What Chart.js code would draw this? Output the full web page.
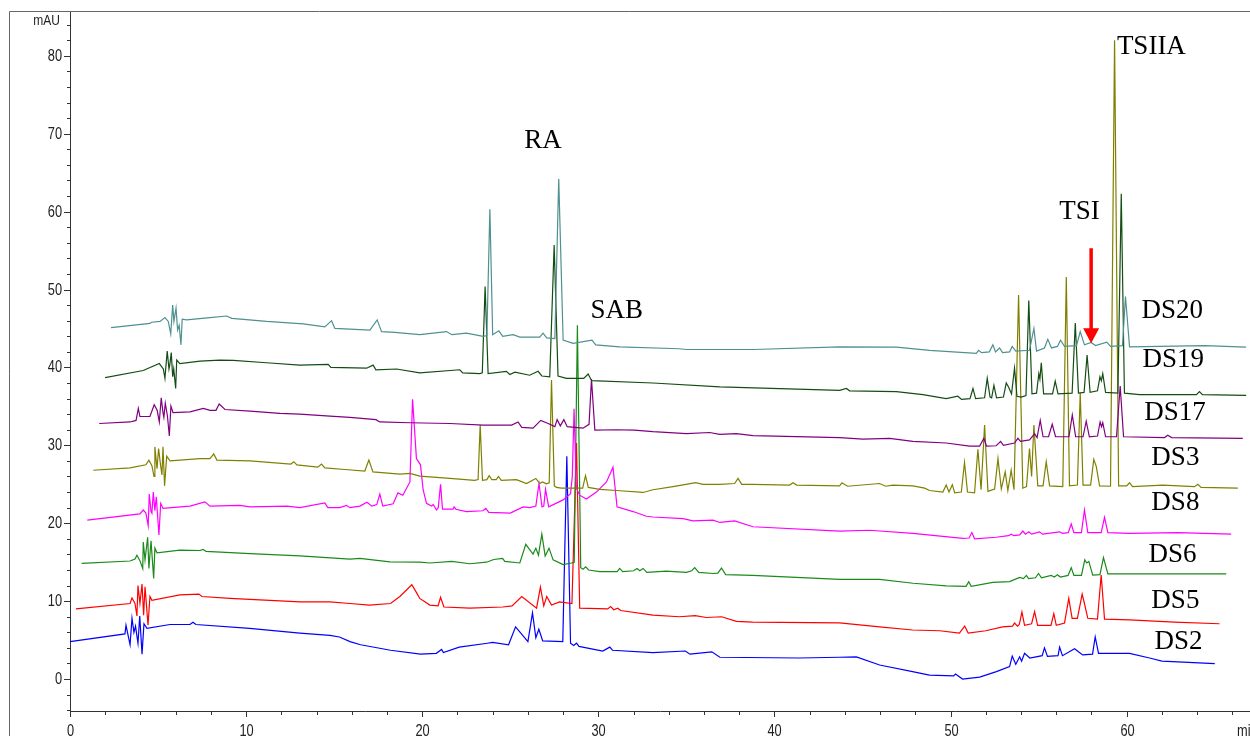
<!DOCTYPE html>
<html>
<head>
<meta charset="utf-8">
<script src="https://cdn.jsdelivr.net/npm/chart.js@4/dist/chart.umd.min.js"></script>
<style>
  html, body { margin: 0; padding: 0; background: #fff; }
  canvas { display: block; }
</style>
</head>
<body>
<canvas id="grafico" width="1250" height="736"></canvas>
<script>
// retention time (min) / absorbance (mAU) pairs, one array per sample
const ds20 = [[2.33,45.1],[4.54,45.65],[4.64,45.8],[5.11,45.9],[5.39,46.4],[5.58,45.9],[5.72,44.3],[5.83,48.0],[5.90,45.9],[6.02,47.6],[6.11,44.8],[6.20,45.4],[6.30,42.9],[6.37,46.2],[6.62,46.1],[7.95,46.4],[8.89,46.6],[9.19,46.3],[11.16,45.9],[13.24,45.6],[14.47,45.2],[14.85,46.0],[15.04,45.0],[17.03,44.8],[17.44,46.1],[17.69,44.6],[18.44,44.5],[19.86,44.2],[21.38,44.6],[21.68,44.2],[22.51,44.4],[23.46,44.0],[23.67,44.1],[23.84,60.3],[24.0,44.2],[24.35,44.7],[24.57,44.0],[25.16,44.2],[25.54,43.9],[26.67,43.9],[26.86,44.4],[27.07,43.8],[27.53,43.7],[27.75,64.2],[28.0,43.5],[28.56,43.1],[29.64,43.5],[29.85,42.9],[31.21,42.65],[34.6,42.4],[35.0,42.3],[38.78,42.3],[43.7,42.65],[46.92,42.6],[48.81,42.2],[51.46,41.8],[51.59,42.2],[51.76,41.9],[52.2,42.0],[52.4,42.9],[52.55,42.0],[52.78,42.5],[52.95,41.9],[53.35,42.0],[53.5,42.7],[53.7,42.1],[54.48,42.2],[54.73,45.0],[54.88,42.1],[55.33,42.5],[55.52,43.6],[55.73,42.5],[56.07,42.7],[56.24,43.5],[56.47,42.7],[57.15,42.8],[57.36,44.6],[57.6,42.9],[57.98,43.2],[58.23,42.8],[58.87,43.25],[59.08,42.7],[59.76,42.8],[59.93,49.1],[60.16,42.65],[64.42,42.8],[66.78,42.6]];

const ds19 = [[1.99,38.7],[4.16,39.6],[4.35,39.8],[5.07,40.5],[5.30,39.8],[5.39,38.6],[5.52,42.1],[5.62,39.8],[5.67,40.4],[5.75,41.9],[5.83,38.8],[5.89,39.8],[6.0,37.3],[6.06,40.95],[6.24,40.5],[7.38,40.8],[8.51,40.95],[9.27,40.9],[11.16,40.6],[13.05,40.3],[14.66,40.4],[14.81,40.0],[16.84,39.9],[17.21,40.3],[17.37,39.7],[18.54,39.8],[19.86,39.3],[22.13,39.7],[22.3,39.3],[23.27,39.2],[23.41,39.3],[23.57,50.4],[23.74,39.2],[24.78,39.5],[24.97,39.1],[25.26,39.4],[26.1,39.0],[26.58,39.5],[26.79,38.9],[27.24,38.8],[27.49,55.7],[27.71,38.9],[28.19,38.6],[29.17,38.6],[29.42,39.15],[29.62,38.3],[33.1,38.0],[36.9,37.5],[43.7,37.05],[44.08,37.3],[44.27,37.0],[46.92,36.9],[48.43,36.5],[49.75,36.0],[50.41,36.3],[50.62,35.9],[51.1,36.0],[51.27,37.3],[51.42,36.0],[51.93,36.1],[52.08,38.6],[52.24,36.2],[52.33,36.1],[52.46,37.7],[52.61,36.1],[53.0,36.2],[53.16,38.0],[53.29,37.5],[53.46,36.6],[53.63,39.9],[53.77,36.3],[54.01,36.2],[54.28,36.4],[54.44,48.6],[54.62,36.6],[54.88,36.7],[55.01,39.2],[55.07,38.5],[55.15,40.6],[55.28,36.6],[55.79,36.6],[55.94,38.25],[56.1,36.6],[56.9,36.7],[57.08,45.7],[57.26,36.7],[57.58,36.8],[57.75,41.6],[57.92,36.8],[58.34,37.0],[58.48,38.8],[58.56,38.3],[58.64,39.2],[58.8,36.8],[59.5,36.7],[59.69,62.3],[59.87,36.7],[60.73,36.5],[63.96,36.5],[64.13,36.9],[64.3,36.5],[66.78,36.4]];

const ds17 = [[1.66,32.8],[3.41,33.0],[3.75,33.2],[3.88,34.75],[3.97,33.7],[4.54,33.7],[4.78,35.2],[4.95,34.5],[5.07,33.0],[5.18,36.1],[5.28,34.2],[5.33,33.6],[5.41,35.4],[5.53,33.8],[5.64,31.2],[5.73,35.05],[5.85,34.2],[6.81,34.3],[7.57,34.75],[7.95,34.5],[8.29,34.5],[8.47,35.3],[8.80,34.6],[10.22,34.4],[11.92,34.1],[13.05,34.0],[14.76,33.75],[15.89,33.6],[17.37,33.3],[17.59,33.0],[19.3,32.9],[21.57,32.8],[23.46,32.6],[25.08,32.6],[25.44,33.0],[25.65,32.3],[26.29,32.2],[26.73,33.2],[27.15,32.8],[27.53,32.4],[27.66,33.3],[27.84,32.5],[28.04,33.3],[28.23,32.4],[29.13,32.2],[29.47,32.7],[29.61,38.5],[29.8,31.96],[31.03,32.0],[32.03,31.95],[33.1,31.75],[35.0,31.5],[36.32,31.65],[36.89,31.4],[37.84,31.5],[38.78,31.25],[43.7,31.0],[45.02,30.8],[46.54,30.9],[47.86,30.5],[49.75,30.3],[51.08,29.9],[51.65,29.9],[51.89,30.9],[52.04,29.9],[52.59,29.95],[52.84,30.5],[53.0,30.0],[53.63,30.3],[53.82,30.9],[53.97,30.5],[54.48,30.7],[54.77,31.5],[54.91,31.0],[55.09,33.2],[55.25,31.1],[55.56,31.1],[55.77,32.7],[55.96,31.1],[56.72,31.1],[56.91,33.9],[57.1,31.1],[57.52,31.1],[57.7,33.1],[57.88,31.1],[58.34,31.2],[58.49,33.0],[58.57,32.4],[58.64,32.9],[58.8,31.1],[59.42,31.1],[59.63,37.6],[59.82,31.1],[62.15,31.0],[62.33,31.3],[62.55,31.0],[66.59,30.9]];

const ds3 = [[1.32,26.8],[3.41,27.1],[4.31,27.5],[4.48,28.1],[4.65,27.4],[4.77,26.0],[4.82,29.8],[4.94,27.0],[5.03,29.6],[5.14,27.5],[5.22,26.2],[5.28,29.8],[5.37,24.8],[5.49,28.6],[5.68,28.0],[7.38,28.3],[7.95,28.3],[8.16,28.9],[8.34,28.1],[10.22,28.0],[12.54,27.6],[12.71,27.9],[12.88,27.5],[14.07,27.2],[14.28,27.6],[14.47,27.1],[15.61,26.9],[16.74,26.7],[16.97,28.1],[17.2,26.6],[18.73,26.3],[19.3,26.4],[19.86,26.05],[21.57,25.75],[22.98,25.5],[23.17,25.6],[23.29,32.6],[23.42,25.5],[23.67,25.6],[23.8,26.1],[23.95,25.6],[24.2,25.6],[24.33,26.0],[24.49,25.5],[25.35,25.6],[25.92,25.1],[26.45,25.75],[26.67,25.1],[26.83,25.3],[27.05,25.05],[27.21,25.2],[27.34,38.4],[27.5,24.8],[27.62,24.6],[27.9,24.5],[29.11,24.5],[29.27,26.1],[29.43,24.6],[30.08,24.35],[31.03,24.2],[32.54,23.95],[33.1,24.3],[34.24,24.7],[35.53,25.2],[35.94,25.0],[36.89,25.0],[37.74,25.1],[37.93,25.75],[38.14,25.0],[38.78,25.0],[40.86,24.9],[41.05,25.2],[41.26,24.9],[43.7,24.8],[43.83,25.2],[44.15,24.75],[45.97,25.1],[46.31,24.75],[46.72,24.9],[47.86,24.8],[48.53,24.5],[48.81,24.2],[49.56,24.0],[49.75,24.9],[49.91,24.0],[50.1,24.95],[50.23,23.9],[50.61,24.0],[50.79,27.8],[50.96,24.0],[51.36,23.9],[51.55,29.5],[51.73,24.3],[51.93,32.6],[52.12,24.1],[52.5,24.4],[52.69,28.3],[52.88,24.4],[53.1,26.6],[53.25,24.2],[53.44,26.8],[53.6,24.3],[53.86,49.3],[54.1,24.5],[54.31,24.7],[54.48,29.6],[54.6,26.0],[54.73,32.6],[54.95,24.8],[55.25,24.8],[55.43,27.9],[55.62,24.8],[56.37,24.7],[56.57,51.6],[56.75,24.8],[57.2,24.9],[57.36,36.7],[57.52,24.9],[57.95,24.9],[58.13,28.2],[58.27,27.3],[58.46,24.8],[59.08,24.75],[59.31,82.0],[59.54,24.8],[60.0,24.8],[60.16,25.2],[60.33,24.7],[62.05,24.9],[63.85,24.7],[64.04,25.0],[64.22,24.6],[66.31,24.5]];

const ds8 = [[0.98,20.4],[3.97,21.2],[4.16,21.7],[4.31,21.3],[4.44,19.7],[4.5,23.75],[4.6,21.5],[4.65,21.3],[4.73,24.0],[4.82,21.6],[4.9,23.4],[5.05,18.5],[5.15,22.55],[5.28,21.9],[6.81,22.2],[7.66,22.75],[7.95,22.2],[9.65,22.3],[10.22,22.1],[12.32,22.2],[13.05,22.0],[14.47,22.6],[14.64,22.0],[15.32,22.0],[15.7,22.3],[15.89,22.0],[16.46,22.2],[16.86,22.7],[17.14,22.2],[17.42,22.4],[17.59,23.75],[17.76,22.2],[18.35,22.5],[18.62,23.9],[18.9,23.6],[19.3,25.3],[19.45,35.9],[19.67,28.3],[19.9,27.5],[20.05,24.3],[20.24,22.55],[20.53,22.2],[20.62,22.4],[20.81,21.7],[20.91,22.0],[21.04,25.0],[21.15,21.8],[21.75,21.8],[21.81,22.1],[21.91,21.8],[22.51,21.5],[23.44,21.6],[23.61,21.9],[23.78,21.4],[25.0,21.3],[25.73,22.1],[26.11,22.0],[26.45,22.2],[26.63,25.1],[26.8,22.1],[26.9,22.2],[27.0,24.35],[27.18,22.1],[28.0,23.0],[28.42,23.8],[28.52,26.0],[28.62,34.7],[28.75,24.5],[28.94,23.6],[29.32,23.1],[29.89,24.0],[30.46,25.3],[30.7,26.5],[30.83,27.2],[30.93,25.0],[31.06,22.1],[31.97,21.5],[32.73,20.9],[33.1,20.8],[34.81,20.6],[35.37,20.3],[36.51,20.4],[36.89,20.1],[37.74,20.3],[38.78,19.55],[43.7,19.0],[45.4,19.1],[47.86,18.7],[50.7,18.05],[51.05,18.1],[51.21,18.8],[51.36,18.0],[52.59,18.2],[53.29,18.4],[53.44,18.6],[53.6,18.4],[53.92,18.5],[54.1,19.0],[54.25,18.6],[54.44,18.9],[54.6,18.6],[55.05,18.9],[55.22,18.6],[56.19,18.9],[56.35,18.7],[56.68,18.8],[56.85,19.9],[57.0,18.8],[57.43,18.8],[57.6,21.7],[57.79,18.8],[58.55,18.8],[58.74,20.75],[58.93,18.8],[60.16,18.7],[62.9,18.8],[65.93,18.6]];

const ds6 = [[0.66,14.85],[3.41,15.15],[3.69,15.4],[3.80,15.9],[3.97,15.2],[4.13,14.2],[4.16,17.6],[4.26,15.3],[4.41,18.2],[4.48,14.2],[4.6,17.75],[4.75,12.9],[4.82,16.8],[4.94,16.2],[6.24,16.55],[7.38,16.5],[7.55,16.65],[7.72,16.4],[10.22,16.1],[13.05,15.8],[15.89,15.4],[16.46,15.5],[18.16,15.05],[19.86,15.0],[20.43,14.9],[21.68,15.1],[22.7,14.8],[23.65,15.0],[24.06,15.35],[24.56,15.5],[24.69,15.1],[25.54,14.9],[25.88,17.3],[26.29,16.05],[26.45,16.8],[26.6,15.9],[26.79,18.6],[26.98,15.8],[27.2,16.8],[27.43,15.3],[28.0,14.7],[28.47,14.9],[28.63,15.0],[28.81,45.4],[29.0,14.3],[29.13,14.1],[29.28,14.4],[29.45,14.0],[30.08,13.8],[31.07,13.8],[31.21,14.2],[31.38,13.8],[32.0,13.9],[32.2,14.2],[32.35,13.9],[32.54,14.2],[32.75,13.7],[33.86,13.85],[35.0,13.7],[35.3,13.9],[35.47,14.3],[35.7,13.7],[36.51,13.55],[36.78,13.6],[36.99,14.25],[37.23,13.4],[38.76,13.3],[43.7,12.8],[45.97,12.8],[47.87,12.3],[49.75,11.95],[50.88,11.9],[51.03,12.5],[51.17,11.9],[52.4,12.4],[53.35,12.5],[53.92,13.05],[54.14,12.9],[54.3,13.3],[54.43,12.9],[54.82,13.0],[54.99,13.55],[55.16,13.0],[55.71,13.3],[55.9,13.1],[56.06,13.4],[56.24,13.1],[56.67,13.3],[56.85,14.3],[57.0,13.3],[57.43,13.3],[57.62,15.3],[57.73,14.9],[57.85,15.1],[58.07,13.35],[58.48,13.4],[58.68,15.6],[58.93,13.5],[60.16,13.5],[65.65,13.5]];

const ds5 = [[0.34,9.0],[3.41,9.7],[3.52,10.4],[3.69,9.7],[3.80,8.1],[3.86,12.0],[3.97,9.7],[4.09,12.2],[4.18,8.2],[4.26,11.85],[4.43,6.9],[4.54,10.6],[4.65,10.1],[6.24,10.8],[7.32,10.9],[7.49,10.6],[9.08,10.35],[13.05,9.9],[14.76,9.9],[15.9,9.7],[17.0,9.5],[18.2,9.7],[18.73,10.6],[19.41,12.1],[19.7,11.0],[19.86,10.35],[20.43,9.5],[20.9,9.4],[21.04,10.5],[21.23,9.25],[22.7,9.1],[24.57,9.25],[25.1,9.4],[25.65,10.6],[26.49,9.1],[26.71,11.8],[26.9,9.4],[27.07,10.6],[27.34,9.5],[27.8,9.9],[28.5,9.7],[28.76,30.3],[28.94,9.1],[30.53,9.0],[30.7,9.3],[30.87,8.9],[31.1,9.1],[31.27,8.8],[33.1,8.2],[34.6,8.0],[35.5,8.15],[36.13,7.9],[37.0,8.0],[37.84,7.4],[38.76,7.3],[43.7,7.2],[45.97,6.7],[47.84,6.3],[49.38,6.2],[50.5,5.9],[50.8,6.8],[51.0,5.9],[52.0,6.2],[52.95,6.7],[53.52,6.8],[53.63,7.2],[53.8,6.8],[53.9,7.0],[54.05,8.6],[54.2,6.9],[54.6,7.1],[54.77,8.65],[54.94,6.9],[55.7,6.9],[55.86,8.4],[56.0,6.9],[56.47,7.2],[56.71,10.35],[56.9,7.8],[57.2,7.8],[57.47,10.9],[57.6,9.7],[57.79,7.8],[58.34,7.7],[58.55,13.35],[58.74,7.7],[60.16,7.6],[62.7,7.3],[65.27,7.1]];

const ds2 = [[0,4.8],[3.12,5.8],[3.18,6.9],[3.29,5.7],[3.41,4.4],[3.52,7.8],[3.63,6.0],[3.72,6.8],[3.86,4.6],[3.96,8.1],[4.09,3.2],[4.20,7.1],[4.37,6.5],[5.68,7.0],[6.81,7.0],[6.98,7.3],[7.15,7.0],[10.2,6.5],[13.05,5.9],[14.76,5.6],[15.3,5.4],[15.9,4.8],[16.5,4.4],[18.2,3.7],[19.9,3.2],[20.8,3.3],[21.1,3.8],[21.2,3.4],[22.1,4.1],[23.7,4.6],[24.0,4.7],[24.9,4.4],[25.3,6.7],[26.0,4.8],[26.26,8.5],[26.45,5.3],[26.62,6.4],[26.84,4.9],[27.98,4.8],[28.21,28.6],[28.42,4.6],[28.6,4.3],[28.76,4.6],[28.9,4.2],[30.25,3.6],[30.65,4.1],[30.8,3.7],[33.1,3.4],[34.94,3.6],[35.2,3.2],[36.44,3.5],[36.9,2.8],[41.4,2.7],[43.7,2.8],[44.65,2.85],[45.97,1.8],[47.84,0.95],[48.8,0.5],[50.17,0.4],[50.28,0.64],[50.68,0.0],[51.65,0.25],[52.6,0.95],[53.35,1.6],[53.5,2.95],[53.7,1.9],[53.92,2.86],[54.03,2.3],[54.2,3.3],[54.5,2.7],[55.2,3.0],[55.33,4.0],[55.5,2.9],[56.1,3.0],[56.19,4.1],[56.35,3.0],[57.04,3.9],[57.26,3.5],[57.5,3.1],[58.06,3.2],[58.21,5.4],[58.4,3.3],[60.16,3.3],[61.3,2.7],[62.0,2.3],[65.0,1.97]];

const nomes = ["DS20", "DS19", "DS17", "DS3", "DS8", "DS6", "DS5", "DS2"];
const series = [ds20, ds19, ds17, ds3, ds8, ds6, ds5, ds2];
const cores = ["#4f9090", "#144d14", "#800080", "#808000", "#ff00ff", "#1a8a1a", "#ff0000", "#0000ff"];

// where each sample name sits (min, mAU)
const rotulosPos = [[60.84, 47.2], [60.9, 40.95], [61.0, 34.15], [61.4, 28.4], [61.4, 22.6], [61.24, 15.9], [61.4, 10.0], [61.58, 4.75]];

// compound names over their peaks
const compostos = ["RA", "SAB", "TSI", "TSIIA"];
const compostosPos = [[26.85, 69.1], [31.04, 47.2], [57.32, 59.9], [61.4, 81.1]];

// arrow pointing at the TSI peak (min, start mAU, tip mAU)
const seta = [57.98, 55.3, 43.1];

const fonteEixo = "'Liberation Sans', Arial, sans-serif";
const fonteTexto = "'Liberation Serif', 'Times New Roman', serif";

// narrow instrument-style text: squeeze horizontally
function textoEstreito(ctx, txt, x, y, align, baseline, size) {
    ctx.save();
    ctx.font = size + "px " + fonteEixo;
    ctx.textAlign = align;
    ctx.textBaseline = baseline;
    ctx.translate(x, y);
    ctx.scale(0.8, 1);
    ctx.fillText(txt, 0, 0);
    ctx.restore();
}

// frame, minor/major ticks, labels and the arrow
const extras = {
    id: "extras",
    afterDraw(chart) {
        const ctx = chart.ctx;
        const xs = chart.scales.x;
        const ys = chart.scales.y;
        ctx.save();

        // outer frame
        ctx.strokeStyle = "#666";
        ctx.lineWidth = 1;
        ctx.beginPath();
        ctx.moveTo(9.5, 736);
        ctx.lineTo(9.5, 11.5);
        ctx.lineTo(1250, 11.5);
        ctx.stroke();

        // tick marks (long on multiples of 10) and their labels
        ctx.strokeStyle = "#333";
        ctx.fillStyle = "#222";
        ctx.beginPath();
        ys.ticks.forEach(t => {
            if (Math.abs(t.value / 2 - Math.round(t.value / 2)) > 1e-6) return;
            const y = Math.round(ys.getPixelForValue(t.value)) + 0.5;
            const major = t.value % 10 === 0;
            const len = major ? 6 : 3;
            ctx.moveTo(ys.right - len, y);
            ctx.lineTo(ys.right, y);
            if (major && t.value >= 0) textoEstreito(ctx, String(t.value), ys.right - 8, y, "right", "middle", 16);
        });
        xs.ticks.forEach(t => {
            if (Math.abs(t.value / 2 - Math.round(t.value / 2)) > 1e-6) return;
            const x = Math.round(xs.getPixelForValue(t.value)) + 0.5;
            const major = t.value % 10 === 0;
            const len = major ? 6 : 4;
            ctx.moveTo(x, xs.top);
            ctx.lineTo(x, xs.top + len);
            if (major) textoEstreito(ctx, String(t.value), x, xs.top + 13, "center", "top", 16);
        });
        ctx.stroke();

        // axis units
        textoEstreito(ctx, "mAU", 60, 21, "right", "middle", 15);
        textoEstreito(ctx, "min", 1237, xs.top + 13, "left", "top", 16);

        // sample names
        ctx.fillStyle = "#000";
        ctx.font = "27px " + fonteTexto;
        ctx.textBaseline = "middle";
        ctx.textAlign = "left";
        nomes.forEach((n, i) => {
            const p = rotulosPos[i];
            ctx.fillText(n, xs.getPixelForValue(p[0]), ys.getPixelForValue(p[1]));
        });

        // compound names
        ctx.textAlign = "center";
        compostos.forEach((n, i) => {
            const p = compostosPos[i];
            ctx.fillText(n, xs.getPixelForValue(p[0]), ys.getPixelForValue(p[1]));
        });

        // red arrow
        const ax = xs.getPixelForValue(seta[0]);
        const y0 = ys.getPixelForValue(seta[1]);
        const y1 = ys.getPixelForValue(seta[2]);
        ctx.strokeStyle = "#ff0000";
        ctx.fillStyle = "#ff0000";
        ctx.lineWidth = 3.5;
        ctx.beginPath();
        ctx.moveTo(ax, y0);
        ctx.lineTo(ax, y1 - 12);
        ctx.stroke();
        ctx.beginPath();
        ctx.moveTo(ax - 8, y1 - 15);
        ctx.lineTo(ax + 8, y1 - 15);
        ctx.lineTo(ax, y1);
        ctx.closePath();
        ctx.fill();

        ctx.restore();
    }
};

const ctx = document.getElementById("grafico").getContext("2d");

new Chart(ctx, {
    type: "line",
    data: {
        datasets: series.map((s, i) => ({
            label: nomes[i],
            data: s.map(p => ({ x: p[0], y: p[1] })),
            borderColor: cores[i],
            borderWidth: 1.2,
            pointRadius: 0,
            tension: 0,
            fill: false
        }))
    },
    options: {
        responsive: false,
        animation: false,
        layout: { padding: { top: 11, right: 0, left: 0, bottom: 0 } },
        plugins: {
            legend: { display: false },
            tooltip: { enabled: false }
        },
        scales: {
            x: {
                type: "linear",
                min: 0,
                max: 67,
                border: { color: "#333", width: 1 },
                grid: { display: false, drawTicks: false },
                ticks: {
                    display: false,
                    stepSize: 2,
                    includeBounds: false,
                    autoSkip: false,
                    maxRotation: 0
                },
                afterFit: s => { s.height = 25; }
            },
            y: {
                min: -4.1,
                max: 85.75,
                border: { color: "#333", width: 1 },
                grid: { display: false, drawTicks: false },
                ticks: {
                    display: false,
                    stepSize: 2,
                    includeBounds: false,
                    autoSkip: false
                },
                afterFit: s => { s.width = 70; }
            }
        }
    },
    plugins: [extras]
});
</script>
</body>
</html>
